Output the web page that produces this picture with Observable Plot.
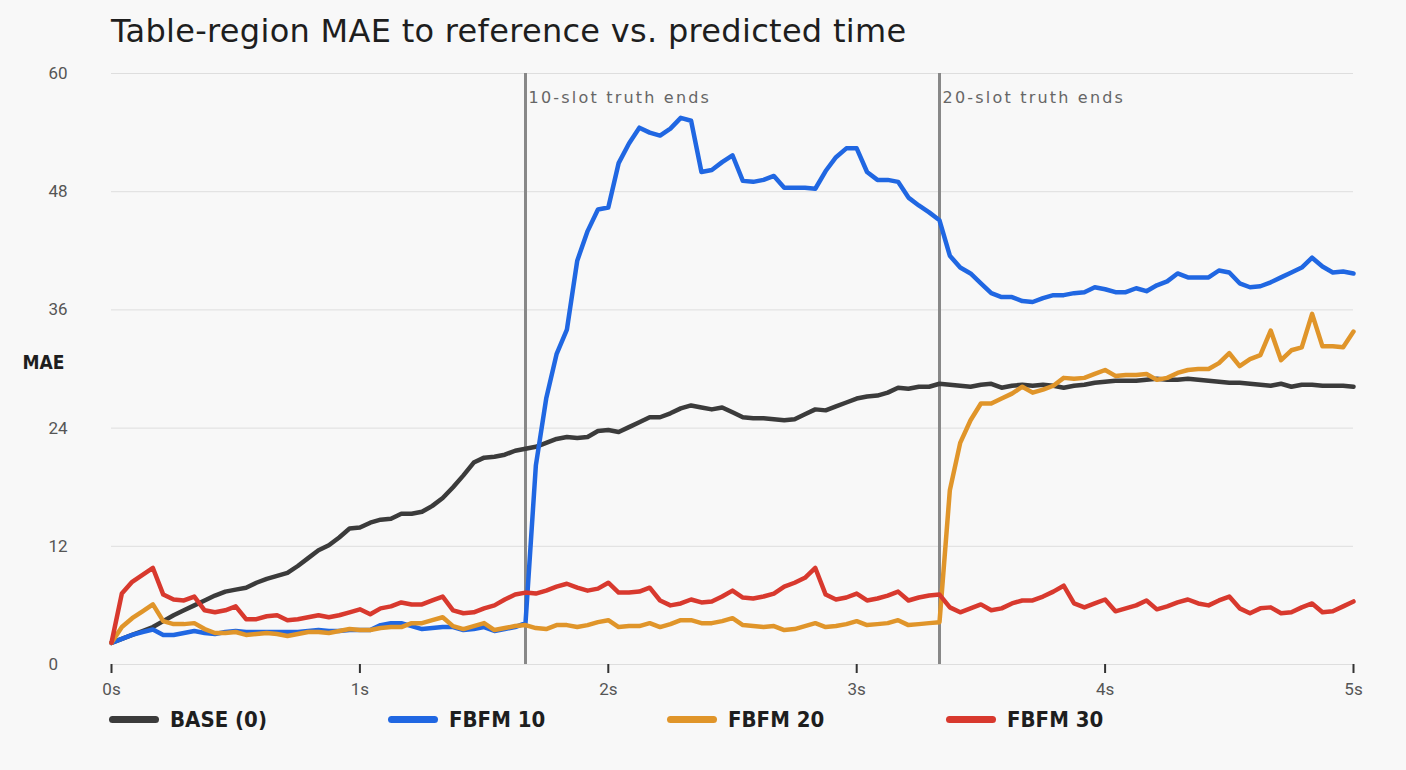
<!DOCTYPE html>
<html>
<head>
<meta charset="utf-8">
<script src="https://cdn.jsdelivr.net/npm/d3@7"></script>
<script src="https://cdn.jsdelivr.net/npm/@observablehq/plot@0.6"></script>
<style>
  html, body { margin: 0; padding: 0; background: #f8f8f8; width: 1406px; height: 770px; overflow: hidden; }
  #title { position: absolute; left: 111px; top: 12px; font-family: "DejaVu Sans", sans-serif; font-size: 32px; letter-spacing: 0.3px; color: #1e1e1e; white-space: nowrap; }
  #chart { position: absolute; left: 0; top: 56px; }
  #legend { position: absolute; left: 109px; top: 705px; display: flex; font-family: "DejaVu Sans Condensed", "DejaVu Sans", sans-serif; font-weight: bold; font-size: 22px; color: #1e1e1e; }
  .item { width: 279px; display: flex; align-items: center; height: 28px; }
  .sw { width: 50px; height: 7px; border-radius: 4px; margin-right: 11px; }
  .annot text { letter-spacing: 2.2px; }
</style>
</head>
<body>
<div id="title">Table-region MAE to reference vs. predicted time</div>
<div id="chart"></div>
<div id="legend"></div>
<script>
// Series names and colours
const seriesNames = ["BASE (0)", "FBFM 10", "FBFM 20", "FBFM 30"];
const seriesColors = ["#3b3b3b", "#2067e2", "#e0952a", "#d8392e"];

// Sample step: 1/24 s, 121 samples from 0 s to 5 s
const frameStep = 1 / 24;

const base = [2.2,2.6,3.0,3.4,3.8,4.4,5.0,5.5,6.0,6.5,
7.0,7.4,7.6,7.8,8.3,8.7,9.0,9.3,10.0,10.8,
11.6,12.1,12.9,13.8,13.9,14.4,14.7,14.8,15.3,15.3,
15.5,16.1,16.9,18.0,19.2,20.5,21.0,21.1,21.3,21.7,
21.9,22.1,22.5,22.9,23.1,23.0,23.1,23.7,23.8,23.6,
24.1,24.6,25.1,25.1,25.5,26.0,26.3,26.1,25.9,26.1,
25.6,25.1,25.0,25.0,24.9,24.8,24.9,25.4,25.9,25.8,
26.2,26.6,27.0,27.2,27.3,27.6,28.1,28.0,28.2,28.2,
28.5,28.4,28.3,28.2,28.4,28.5,28.1,28.3,28.4,28.3,
28.4,28.3,28.1,28.3,28.4,28.6,28.7,28.8,28.8,28.8,
28.9,29.0,28.9,28.9,29.0,28.9,28.8,28.7,28.6,28.6,
28.5,28.4,28.3,28.5,28.2,28.4,28.4,28.3,28.3,28.3,
28.2];

const fbfm10 = [2.2,2.6,3.0,3.3,3.55,3.0,3.0,3.2,3.4,3.2,
3.1,3.3,3.4,3.3,3.3,3.3,3.3,3.3,3.3,3.4,
3.5,3.4,3.4,3.5,3.5,3.5,4.0,4.2,4.2,3.9,
3.6,3.7,3.8,3.8,3.5,3.6,3.8,3.4,3.6,3.8,
4.2,20.2,27.0,31.5,34.0,41.0,44.0,46.2,46.4,50.9,
52.9,54.5,54.0,53.7,54.4,55.5,55.2,50.0,50.2,51.0,
51.7,49.1,49.0,49.2,49.6,48.4,48.4,48.4,48.3,50.1,
51.5,52.4,52.4,50.0,49.2,49.2,49.0,47.4,46.6,45.9,
45.1,41.5,40.3,39.7,38.7,37.7,37.3,37.3,36.9,36.8,
37.2,37.5,37.5,37.7,37.8,38.3,38.1,37.8,37.8,38.2,
37.9,38.5,38.9,39.7,39.3,39.3,39.3,40.0,39.8,38.7,
38.3,38.4,38.8,39.3,39.8,40.3,41.3,40.4,39.8,39.9,
39.7];

const fbfm20 = [2.2,3.8,4.7,5.4,6.1,4.4,4.1,4.1,4.2,3.6,
3.2,3.2,3.3,3.0,3.1,3.2,3.1,2.9,3.1,3.3,
3.3,3.2,3.4,3.6,3.5,3.5,3.7,3.8,3.8,4.2,
4.2,4.5,4.8,3.9,3.6,3.9,4.2,3.5,3.7,3.9,
4.0,3.7,3.6,4.0,4.0,3.8,4.0,4.3,4.5,3.8,
3.9,3.9,4.2,3.8,4.1,4.5,4.5,4.2,4.2,4.4,
4.7,4.0,3.9,3.8,3.9,3.5,3.6,3.9,4.2,3.8,
3.9,4.1,4.4,4.0,4.1,4.2,4.5,4.0,4.1,4.2,
4.3,17.7,22.5,24.8,26.5,26.5,27.0,27.5,28.2,27.6,
27.9,28.3,29.1,29.0,29.1,29.5,29.9,29.3,29.4,29.4,
29.5,28.9,29.1,29.6,29.9,30.0,30.0,30.6,31.6,30.3,
31.0,31.4,33.9,30.9,31.9,32.2,35.6,32.3,32.3,32.2,
33.8];

const fbfm30 = [2.2,7.2,8.4,9.1,9.8,7.1,6.6,6.5,6.9,5.5,
5.3,5.5,5.9,4.6,4.6,4.9,5.0,4.5,4.6,4.8,
5.0,4.8,5.0,5.3,5.6,5.1,5.7,5.9,6.3,6.1,
6.1,6.5,6.9,5.5,5.2,5.3,5.7,6.0,6.6,7.1,
7.3,7.2,7.5,7.9,8.2,7.8,7.5,7.7,8.3,7.3,
7.3,7.4,7.8,6.5,6.0,6.2,6.6,6.3,6.4,6.9,
7.5,6.8,6.7,6.9,7.2,7.9,8.3,8.8,9.8,7.1,
6.6,6.8,7.2,6.5,6.7,7.0,7.4,6.5,6.8,7.0,
7.1,5.8,5.3,5.7,6.1,5.5,5.7,6.2,6.5,6.5,
6.9,7.4,8.0,6.2,5.8,6.2,6.6,5.4,5.7,6.0,
6.5,5.6,5.9,6.3,6.6,6.2,6.0,6.5,6.9,5.7,
5.2,5.7,5.8,5.2,5.3,5.8,6.2,5.3,5.4,5.9,
6.4];

// Axis ticks
const xTicks = [0, 1, 2, 3, 4, 5];
const yTicks = [0, 12, 24, 36, 48, 60];

// Annotations: where the truth slots end
const slotEnds = [10 / 6, 20 / 6];
const slotLabels = ["10-slot truth ends", "20-slot truth ends"];

// Build tidy table
const seriesValues = [base, fbfm10, fbfm20, fbfm30];
const rows = [];
seriesValues.forEach((vals, s) => {
  vals.forEach((v, i) => rows.push({ t: i * frameStep, mae: v, series: seriesNames[s] }));
});
const annotations = slotEnds.map((t, i) => ({ t, label: slotLabels[i] }));

const chart = Plot.plot({
  width: 1406,
  height: 650,
  marginLeft: 111,
  marginRight: 53,
  marginTop: 17,
  marginBottom: 42,
  style: { background: "transparent", fontFamily: "DejaVu Sans, sans-serif", overflow: "visible" },
  x: { domain: [0, 5] },
  y: { domain: [0, 60] },
  color: { domain: seriesNames, range: seriesColors },
  marks: [
    Plot.gridY(yTicks, { stroke: "#dedede", strokeOpacity: 1, strokeWidth: 1 }),
    Plot.ruleX(annotations, { x: "t", stroke: "#888", strokeWidth: 3 }),
    Plot.text(annotations, {
      x: "t", text: "label", frameAnchor: "top", textAnchor: "start", lineAnchor: "middle",
      dx: 3, dy: 24, fontSize: 16, fill: "#666", fontFamily: "DejaVu Sans, sans-serif",
      className: "annot"
    }),
    Plot.line(rows, {
      x: "t", y: "mae", z: "series", stroke: "series",
      strokeWidth: 4.5, strokeLinejoin: "round", strokeLinecap: "round"
    }),
    Plot.axisX(xTicks, {
      tickFormat: d => d + "s", tickSize: 9, tickPadding: 9, strokeWidth: 2, stroke: "#333",
      fontSize: 17, fill: "#555", label: null, fontFamily: "Roboto, sans-serif"
    }),
    Plot.axisY(yTicks, {
      tickSize: 0, tickPadding: 3, textAnchor: "start", dx: -60, fontSize: 17, fill: "#555",
      label: null, fontFamily: "Roboto, sans-serif"
    }),
    Plot.text(["MAE"], {
      frameAnchor: "left", textAnchor: "start", dx: -89, dy: -6, fontSize: 19, fontWeight: "bold",
      fill: "#1e1e1e", fontFamily: "DejaVu Sans Condensed, DejaVu Sans, sans-serif"
    })
  ]
});
document.getElementById("chart").appendChild(chart);

const legend = document.getElementById("legend");
seriesNames.forEach((name, i) => {
  const item = document.createElement("div");
  item.className = "item";
  const sw = document.createElement("span");
  sw.className = "sw";
  sw.style.background = seriesColors[i];
  const label = document.createElement("span");
  label.textContent = name;
  item.appendChild(sw);
  item.appendChild(label);
  legend.appendChild(item);
});
</script>
</body>
</html>
